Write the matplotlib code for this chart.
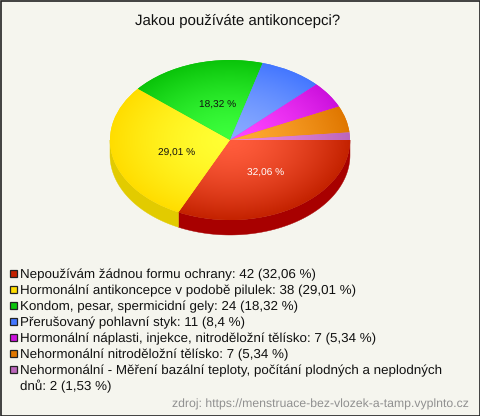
import numpy as np
import matplotlib
matplotlib.use("Agg")
import matplotlib.pyplot as plt
from matplotlib.colors import LinearSegmentedColormap
from matplotlib.patches import Rectangle

plt.rcParams["text.hinting"] = "none"
plt.rcParams["text.hinting_factor"] = 8

title = "Jakou používáte antikoncepci?"
values = [42, 38, 24, 11, 7, 7, 2]
legend_lines = [
    "Nepoužívám žádnou formu ochrany: 42 (32,06 %)",
    "Hormonální antikoncepce v podobě pilulek: 38 (29,01 %)",
    "Kondom, pesar, spermicidní gely: 24 (18,32 %)",
    "Přerušovaný pohlavní styk: 11 (8,4 %)",
    "Hormonální náplasti, injekce, nitroděložní tělísko: 7 (5,34 %)",
    "Nehormonální nitroděložní tělísko: 7 (5,34 %)",
    "Nehormonální - Měření bazální teploty, počítání plodných a neplodných\ndnů: 2 (1,53 %)",
]
source = "zdroj: https://menstruace-bez-vlozek-a-tamp.vyplnto.cz"
pct_labels = ["32,06 %", "29,01 %", "18,32 %"]

base = ["#c42200", "#ffdd00", "#0ac40a", "#4477ff", "#cc11dd", "#e07700", "#bb66bb"]
light = ["#ff5c3c", "#ffff33", "#3cff3c", "#88aaff", "#ff44ff", "#ffaa33", "#ee88dd"]
side = ["#a80000", "#e2cb00", "#0a9a0a", "#3358cc", "#a00da8", "#b06000", "#955095"]
BG = "#f5f5ee"
FONT = "Liberation Sans"

W, H = 480, 416
fig = plt.figure(figsize=(W / 100, H / 100), dpi=100, facecolor=BG)

bg = fig.add_axes([0, 0, 1, 1])
bg.set_xlim(0, W)
bg.set_ylim(H, 0)
bg.axis("off")
bg.add_patch(Rectangle((0.5, 0.5), W - 1.0, H - 1.0, fill=False, ec="#222222", lw=1.2))

# pie axes: covers the ellipse of the top face
cx, cy, rx, ry, depth = 230, 140, 120, 80, 15
ax = fig.add_axes([(cx - rx) / W, 1 - (cy + ry) / H, 2 * rx / W, 2 * ry / H])
ax.patch.set_alpha(0)

# side wall
dz = depth / ry
edges = np.concatenate([[0], np.cumsum(values)]) / np.sum(values) * 360
for i in range(len(values)):
    a0, a1 = edges[i], min(edges[i + 1], 180)
    if a0 >= 180:
        continue
    t = np.radians(np.linspace(a0, a1, 80))
    xs = np.cos(t)
    ys = -np.sin(t)
    ax.fill(np.r_[xs, xs[::-1]], np.r_[ys, ys[::-1] - dz], color=side[i], lw=0.3,
            clip_on=False, zorder=1)

wedges, _ = ax.pie(values, startangle=0, counterclock=False, colors=base,
                   radius=1, center=(0, 0), frame=True,
                   wedgeprops=dict(lw=0))
ax.set_aspect("auto")
ax.set_xlim(-1, 1)
ax.set_ylim(-1, 1)
ax.set_xticks([])
ax.set_yticks([])
for s in ax.spines.values():
    s.set_visible(False)

# radial shading per slice
gx, gy = np.meshgrid(np.linspace(-1, 1, 700), np.linspace(-1, 1, 500))
rr = np.hypot(gx, gy) ** 1.5
for w, c0, c1 in zip(wedges, light, base):
    w.set_zorder(2)
    cmap = LinearSegmentedColormap.from_list("g", [c0, c1])
    im = ax.imshow(rr, extent=(-1, 1, -1, 1), origin="lower", cmap=cmap, vmin=0, vmax=1,
                   aspect="auto", zorder=3, interpolation="bilinear")
    im.set_clip_path(w)
ax.set_xlim(-1, 1)
ax.set_ylim(-1, 1)

# overlay text
top = fig.add_axes([0, 0, 1, 1])
top.set_xlim(0, W)
top.set_ylim(H, 0)
top.axis("off")
top.patch.set_alpha(0)

top.text(237.5, 21, title, ha="center", va="center", fontsize=10.8, family=FONT, color="#111111")

for txt, (x, y), col in zip(pct_labels, [(266, 173), (177, 153), (218, 105)],
                            ["white", "#111111", "#111111"]):
    top.text(x, y, txt, ha="center", va="center", fontsize=7.3, family=FONT, color=col)

y = 274
for line, c in zip(legend_lines, base):
    top.add_patch(Rectangle((10.3, y - 3.8), 6.5, 6.8, fc=c, ec="#222222", lw=0.9))
    for part in line.split("\n"):
        top.text(20, y + 0.8, part, ha="left", va="center", fontsize=9.64, family=FONT, color="#111111")
        y += 16

top.text(469, 404, source, ha="right", va="center", fontsize=8.86, family=FONT, color="#909090")

fig.savefig("out.png", dpi=100, facecolor=BG)
